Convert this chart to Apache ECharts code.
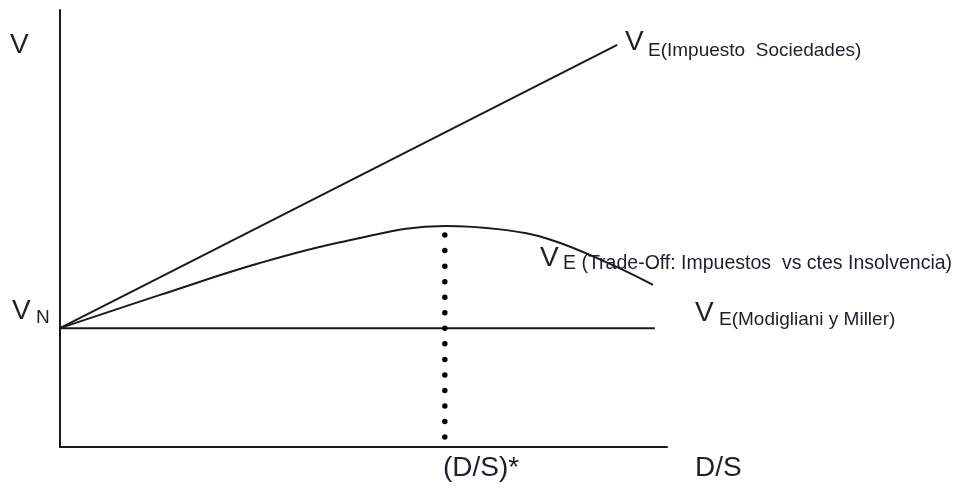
<!DOCTYPE html>
<html>
<head>
<meta charset="utf-8">
<script src="https://cdn.jsdelivr.net/npm/echarts@6/dist/echarts.min.js"></script>
<style>
  html, body { margin: 0; padding: 0; background: #fff; }
  #chart { width: 959px; height: 490px; }
</style>
</head>
<body>
<div id="chart"></div>
<script>
// D/S on x (0..100), firm value V on y (0..100)
const tradeOffX = [0, 16.5, 32.9, 47.0, 63.4, 72.5, 80.7, 90.6, 97.7];
const tradeOffY = [27.2, 34.8, 42.1, 47.1, 50.6, 49.8, 47.5, 41.9, 37.1];
const taxX = [0, 91.8];
const taxY = [27.2, 92.0];
const mmX = [0, 98.0];
const mmY = [27.2, 27.2];
const optimumX = 63.4;
const optimumY = [48.5, 2.0];

const pairs = (xs, ys) => xs.map((x, i) => [x, ys[i]]);

const chart = echarts.init(document.getElementById('chart'));

const FONT = "'Liberation Sans', Arial, sans-serif";
const INK = '#1e1e2c';
const LINE = '#1a1a1a';

function label(text, x, y, size) {
  return {
    type: 'text',
    x: x,
    y: y,
    silent: true,
    style: {
      text: text,
      font: size + 'px ' + FONT,
      fill: INK,
      verticalAlign: 'middle',
      align: 'left'
    }
  };
}

const option = {
  animation: false,
  backgroundColor: '#fff',
  grid: { left: 60, right: 292, top: 10, bottom: 43 },
  xAxis: {
    type: 'value',
    min: 0,
    max: 100,
    axisLine: { show: true, lineStyle: { color: LINE, width: 2 } },
    axisTick: { show: false },
    axisLabel: { show: false },
    splitLine: { show: false }
  },
  yAxis: {
    type: 'value',
    min: 0,
    max: 100,
    axisLine: { show: true, lineStyle: { color: LINE, width: 2 } },
    axisTick: { show: false },
    axisLabel: { show: false },
    splitLine: { show: false }
  },
  series: [
    {
      name: 'Impuesto Sociedades',
      type: 'line',
      data: pairs(taxX, taxY),
      symbol: 'none',
      lineStyle: { color: LINE, width: 2 }
    },
    {
      name: 'Modigliani y Miller',
      type: 'line',
      data: pairs(mmX, mmY),
      symbol: 'none',
      lineStyle: { color: LINE, width: 2 }
    },
    {
      name: 'Trade-Off',
      type: 'line',
      data: pairs(tradeOffX, tradeOffY),
      symbol: 'none',
      smooth: 0.4,
      lineStyle: { color: LINE, width: 2 }
    },
    {
      name: 'optimo',
      type: 'line',
      data: optimumY.map(y => [optimumX, y]),
      symbol: 'none',
      lineStyle: { color: '#000', width: 5.5, type: [0, 15.54], cap: 'round' }
    }
  ],
  graphic: [
    label('V', 10, 45, 28),
    label('V', 12, 311, 28),
    label('N', 36, 318, 19),
    label('V', 625, 42, 28),
    label('E(Impuesto  Sociedades)', 648, 51, 19),
    label('V', 540, 258, 28),
    label('E (Trade-Off: Impuestos  vs ctes Insolvencia)', 563, 264, 19.5),
    label('V', 695, 313, 28),
    label('E(Modigliani y Miller)', 719, 320, 19),
    label('(D/S)*', 443, 468, 28),
    label('D/S', 695, 468, 28)
  ]
};

chart.setOption(option);
</script>
</body>
</html>
